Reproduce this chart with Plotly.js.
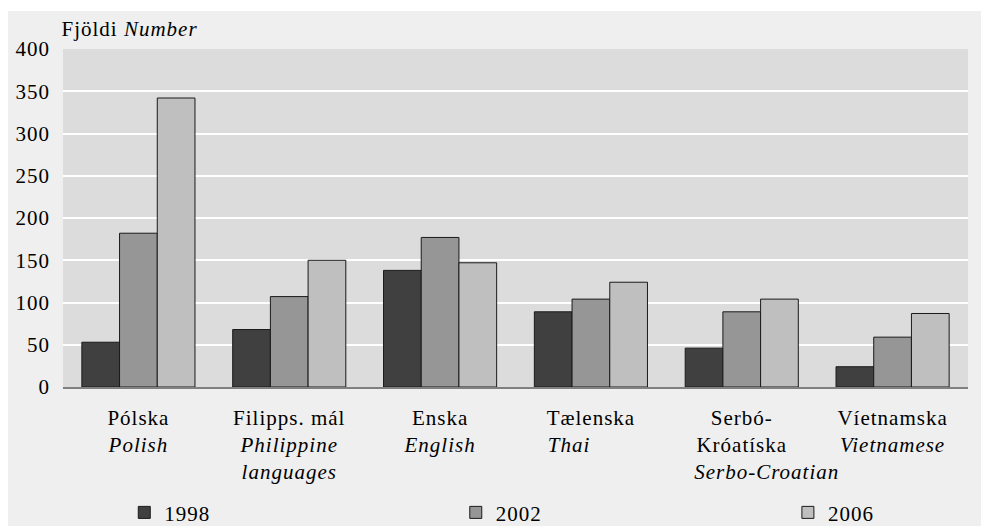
<!DOCTYPE html>
<html>
<head>
<meta charset="utf-8">
<script src="https://cdn.plot.ly/plotly-3.0.1.min.js"></script>
<style>
  html, body { margin: 0; padding: 0; background: #ffffff; }
  #chart { position: absolute; left: 8px; top: 11px; width: 973px; height: 515px; }
  #chart text { letter-spacing: 1px; }
</style>
</head>
<body>
<div id="chart"></div>
<script>
// ---- data ----
var categories = ['Pólska', 'Filipps. mál', 'Enska', 'Tælenska', 'Serbó-Króatíska', 'Víetnamska'];
var categoryLabels = [
  'Pólska<br><i>Polish</i>',
  'Filipps. mál<br><i>Philippine</i><br><i>languages</i>',
  'Enska<br><i>English</i>',
  'Tælenska<br><i>Thai</i>\u00a0\u00a0\u00a0\u00a0\u00a0\u00a0\u00a0',
  'Serbó-<br>Króatíska<br>\u00a0\u00a0\u00a0\u00a0\u00a0\u00a0\u00a0\u00a0<i>Serbo-Croatian</i>',
  'Víetnamska<br><i>Vietnamese</i>'
];
var years = ['1998', '2002', '2006'];
var v1998 = [53, 68, 138, 89, 46, 24];
var v2002 = [182, 107, 177, 104, 89, 59];
var v2006 = [342, 150, 147, 124, 104, 87];
var yTicks = [0, 50, 100, 150, 200, 250, 300, 350, 400];
var yTitle = 'Fjöldi <i>Number</i>';

var colors = ['#404040', '#969696', '#bfbfbf'];
var series = [v1998, v2002, v2006];
var legendIds = ['legend', 'legend2', 'legend3'];
var FONT = '"Liberation Serif", "Times New Roman", serif';

var traces = series.map(function (vals, i) {
  return {
    type: 'bar',
    name: years[i],
    x: categories,
    y: vals,
    legend: legendIds[i],
    marker: { color: colors[i], line: { color: '#1a1a1a', width: 1 } },
    hoverinfo: 'skip'
  };
});

function legendAt(xpos) {
  return {
    orientation: 'h',
    x: xpos, xanchor: 'left',
    y: -0.372, yanchor: 'middle',
    bgcolor: 'rgba(0,0,0,0)',
    font: { family: FONT, size: 21, color: '#000000' }
  };
}

var layout = {
  width: 973,
  height: 515,
  paper_bgcolor: '#efefef',
  plot_bgcolor: '#dcdcdc',
  margin: { l: 55, r: 13, t: 38, b: 139, autoexpand: false },
  font: { family: FONT, size: 21, color: '#000000' },
  barmode: 'group',
  bargap: 0.25,
  bargroupgap: 0,
  showlegend: true,
  legend: legendAt(0.0677),
  legend2: legendAt(0.434),
  legend3: legendAt(0.801),
  xaxis: {
    type: 'category',
    tickvals: categories,
    ticktext: categoryLabels,
    ticks: '',
    showgrid: false,
    showline: true,
    linecolor: '#808080',
    linewidth: 1.5,
    ticklabelstandoff: 11,
    tickfont: { family: FONT, size: 21, color: '#000000' },
    automargin: false,
    fixedrange: true
  },
  yaxis: {
    range: [0, 400],
    tickvals: yTicks,
    ticks: '',
    showgrid: true,
    gridcolor: '#ffffff',
    gridwidth: 2,
    zeroline: false,
    showline: false,
    ticklabelstandoff: 12,
    tickfont: { family: FONT, size: 21, color: '#000000' },
    automargin: false,
    fixedrange: true
  },
  annotations: [{
    xref: 'paper', yref: 'paper',
    x: 0, y: 1,
    xanchor: 'left', yanchor: 'bottom',
    xshift: 3, yshift: 6,
    showarrow: false,
    text: yTitle,
    font: { family: FONT, size: 21, color: '#000000' }
  }]
};

Plotly.newPlot('chart', traces, layout, { displayModeBar: false, staticPlot: true });
</script>
</body>
</html>
